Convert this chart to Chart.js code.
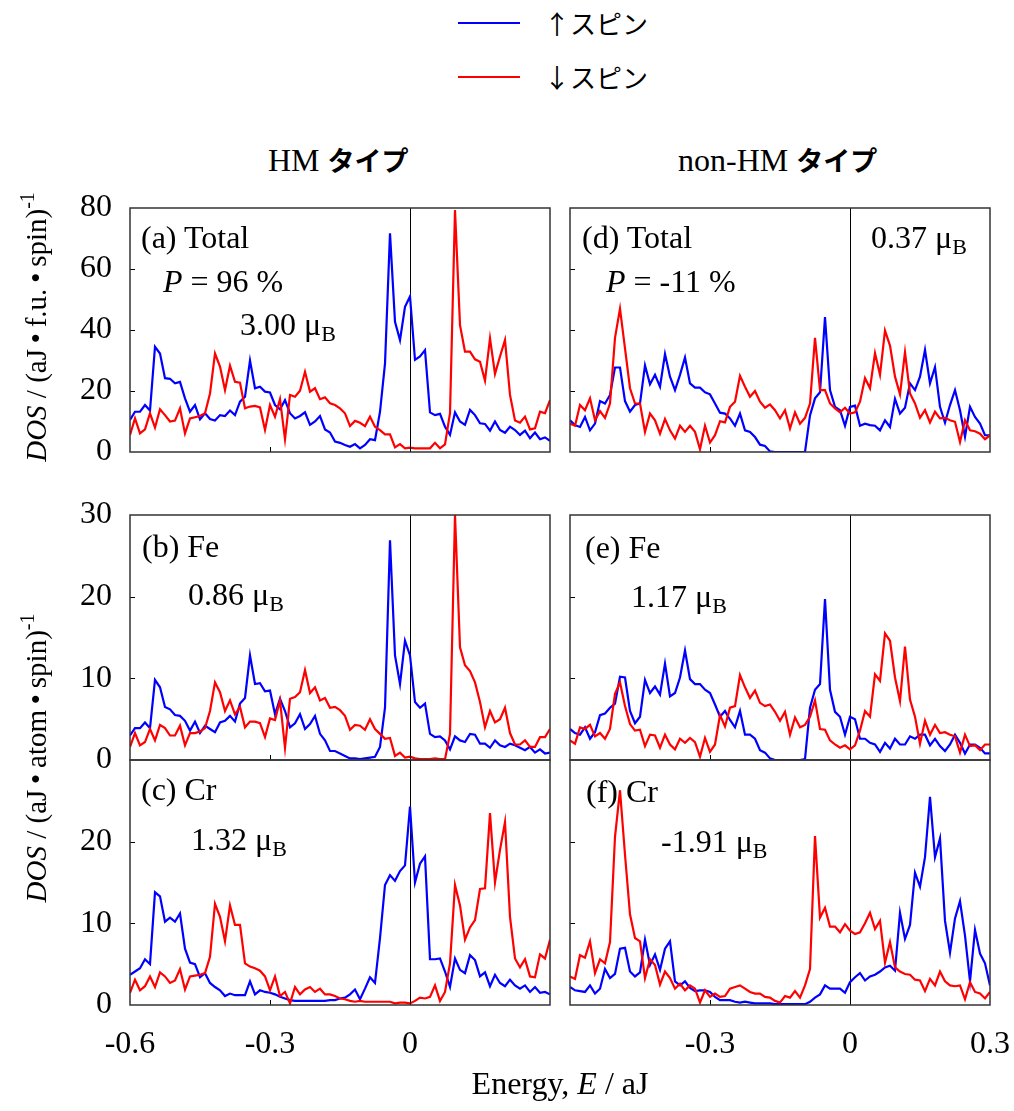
<!DOCTYPE html>
<html>
<head>
<meta charset="utf-8">
<script src="https://cdn.jsdelivr.net/npm/chart.js@4.4.0/dist/chart.umd.min.js"></script>
<style>
    body { margin: 0; background: #fff; }
    #fig { position: relative; width: 1014px; height: 1111px; background: #fff; overflow: hidden; }
    #fig canvas { position: absolute; }
    .t { position: absolute; white-space: nowrap; line-height: 1; color: #000;
         font-family: "Liberation Serif", "Times New Roman", serif; font-size: 32px; }
    .jp { font-family: "Noto Sans CJK JP", sans-serif; }
    .t sub { font-size: 22px; vertical-align: -6px; line-height: 0; }
    .t sup { font-size: 20px; vertical-align: 12px; line-height: 0; }
    .lg { position: absolute; height: 0; border-top: 2px solid; width: 62px; }
</style>
</head>
<body>
<div id="fig">
    <!-- leyenda -->
    <div class="lg" style="left:458px; top:22px; border-color:#0000ff"></div>
    <div class="t jp" style="left:544px; top:10px; font-size:26px">↑スピン</div>
    <div class="lg" style="left:458px; top:76px; border-color:#ff0000"></div>
    <div class="t jp" style="left:544px; top:64px; font-size:26px">↓スピン</div>

    <!-- títulos de columna -->
    <div class="t" style="left:268px; top:144px">HM <b class="jp" style="font-size:27px">タイプ</b></div>
    <div class="t" style="left:678px; top:144px">non-HM <b class="jp" style="font-size:27px">タイプ</b></div>

    <canvas id="cA" width="574" height="272" style="left:0px; top:190px"></canvas>
    <canvas id="cD" width="574" height="272" style="left:440px; top:190px"></canvas>
    <canvas id="cB" width="574" height="285" style="left:0px; top:497px"></canvas>
    <canvas id="cE" width="574" height="285" style="left:440px; top:497px"></canvas>
    <canvas id="cC" width="574" height="328" style="left:0px; top:742px"></canvas>
    <canvas id="cF" width="574" height="328" style="left:440px; top:742px"></canvas>

    <!-- etiquetas de cada panel -->
    <div class="t" style="left:141px; top:221px">(a) Total</div>
    <div class="t" style="left:163px; top:265px"><i>P</i> = 96 %</div>
    <div class="t" style="left:240px; top:308px">3.00 μ<sub>B</sub></div>
    <div class="t" style="left:582px; top:221px">(d) Total</div>
    <div class="t" style="left:606px; top:265px"><i>P</i> = -11 %</div>
    <div class="t" style="left:871px; top:221px">0.37 μ<sub>B</sub></div>
    <div class="t" style="left:142px; top:530px">(b) Fe</div>
    <div class="t" style="left:188px; top:578px">0.86 μ<sub>B</sub></div>
    <div class="t" style="left:585px; top:531px">(e) Fe</div>
    <div class="t" style="left:631px; top:580px">1.17 μ<sub>B</sub></div>
    <div class="t" style="left:141px; top:773px">(c) Cr</div>
    <div class="t" style="left:191px; top:823px">1.32 μ<sub>B</sub></div>
    <div class="t" style="left:586px; top:775px">(f) Cr</div>
    <div class="t" style="left:661px; top:825px">-1.91 μ<sub>B</sub></div>

    <!-- ejes -->
    <div class="t" style="left:36px; top:327px; font-size:29px; transform:translate(-50%,-50%) rotate(-90deg)"><i>DOS</i> / (aJ&#8201;•&#8201;f.u.&#8201;•&#8201;spin)<sup>-1</sup></div>
    <div class="t" style="left:36px; top:758px; font-size:29px; transform:translate(-50%,-50%) rotate(-90deg)"><i>DOS</i> / (aJ&#8201;•&#8201;atom&#8201;•&#8201;spin)<sup>-1</sup></div>
    <div class="t" style="left:560px; top:1083px; transform:translate(-50%,-50%)">Energy, <i>E</i> / aJ</div>
</div>

<script>
// DATOS
// malla de energía (aJ), 85 puntos entre -0.6 y 0.3
const energy = []
for (let i = 0; i <= 84; i++) energy.push(-0.6 + i * 0.9 / 84)

const xTicks = [-0.6, -0.3, 0, 0.3]

// (a) Total, HM
const upTotalHM = [10.5, 13.2, 13.2, 15.4, 13.6, 34.5, 32.3, 24.2, 24, 22.5,
    23, 17.6, 13.2, 15.4, 10.7, 12.7, 10.8, 10.3, 12.1, 11.8,
    13.6, 12.1, 16.5, 18.1, 30, 20.9, 21.4, 19.8, 19.5, 15.4,
    14, 17, 12.7, 11, 11.8, 13, 8.9, 10, 11.8, 7.4,
    6.4, 3.4, 3, 2.3, 1.7, 2.6, 1.2, 2.3, 4.2, 3.9,
    13.2, 29, 71.7, 42.7, 36.7, 47.6, 51, 30.2, 31.3, 33.4,
    13, 12.1, 12.5, 8.3, 5.6, 13, 10, 8.9, 13.8, 12.1,
    9.4, 9.2, 7, 10, 7.2, 6.3, 8.3, 7.2, 5.6, 7,
    4.5, 6.4, 4.2, 4.8, 3.7]
const dnTotalHM = [5.6, 11, 6.1, 7.4, 12.7, 8, 14, 12.1, 10, 10.3,
    14.3, 6.1, 11, 11.4, 11.8, 12.7, 19.2, 32.3, 28, 20.3,
    28.3, 23, 22.7, 14.3, 14.9, 15.1, 14.6, 7.2, 15.4, 11.6,
    17.3, 4.2, 18.7, 18.1, 20.1, 26.3, 19.8, 20.9, 17.3, 17.9,
    16, 15.4, 14.3, 12.7, 8.5, 10.2, 9.6, 8.5, 11.6, 8.3,
    7.2, 5.8, 5.8, 1.5, 2.6, 1.2, 1.4, 1.2, 1.2, 1.2,
    1.2, 3, 1.2, 2.5, 12.7, 79.3, 41.6, 32.9, 32.9, 30.4,
    29.6, 23.4, 37.3, 25.6, 31.3, 36.7, 18.7, 10.3, 9.6, 11.6,
    7.4, 7.8, 13.2, 12.7, 17]

// (d) Total, non-HM
const upTotalNon = [10.4, 8.8, 8.2, 11.5, 7.1, 9.3, 16.7, 15.9, 18.7, 27.7,
    27.7, 16.7, 13.2, 15.4, 15.9, 28.4, 22.2, 25.3, 21.4, 32.1,
    24.7, 20.3, 25.3, 31, 22.5, 21.1, 21.1, 19.6, 18.9, 15.9,
    12.9, 12.6, 11, 8.6, 12.6, 7.1, 6.6, 4.9, 2.4, 2,
    0.2, 0, 0, 0, 0, 0, 0, 0, 12, 17.6,
    19.6, 44.2, 20.3, 14.8, 13.7, 8.6, 14.8, 15.2, 8.6, 9.3,
    8.8, 8.6, 7.1, 10.4, 8.2, 17.4, 12.6, 14.5, 22.5, 20.3,
    24.7, 33.5, 22.5, 27.8, 14.8, 9.6, 15.4, 20.3, 13.7, 5,
    14.8, 11.5, 9.3, 5.5, 5.5]
const dnTotalNon = [9.3, 8.6, 15.4, 13.7, 17.6, 10.4, 13.4, 11.2, 15.9, 37.4,
    47, 34, 20.9, 15.9, 15.9, 6.6, 12.6, 10.4, 6, 10.8,
    7.1, 4.4, 8.6, 6.6, 8.6, 6.6, 0.9, 8.6, 3.1, 5.5,
    10.1, 9.7, 14.8, 16.5, 25, 21.4, 18.1, 20, 16.5, 14.5,
    15.6, 13.7, 11, 13.7, 7.7, 13, 9.3, 11.2, 15.9, 37.4,
    20.3, 20.3, 15.9, 14.3, 13, 14.5, 12.6, 13, 16.5, 24.2,
    20.9, 32.4, 25.3, 39.8, 34.9, 24.7, 18.9, 32.7, 19.2, 15.9,
    11.2, 13.7, 9.7, 13.2, 11, 11.2, 10.4, 9.9, 3.3, 10.4,
    7.1, 6.8, 6, 4.2, 5.5]

// (b) Fe, HM
const upFeHM = [3, 3.9, 3.9, 4.6, 3.9, 9.8, 8.9, 6.5, 6.2, 5.5,
    5.4, 4.8, 3.6, 4.7, 3.3, 4.2, 3.8, 3.4, 4.6, 4.8,
    5.4, 4.7, 6.9, 7.6, 12.8, 9.3, 9.4, 8.4, 8.5, 5.6,
    7.5, 6, 4, 4.5, 5.6, 3.8, 4.4, 5.4, 3.2, 2.4,
    1.1, 1.1, 0.8, 0.5, 0.2, 0.2, 0.1, 0.2, 0.3, 0.4,
    1.6, 6.4, 26.9, 12.8, 9.3, 14.6, 12.8, 7.1, 6.4, 6.9,
    3.2, 2.8, 2.9, 2.4, 1.3, 2.9, 2.4, 2.2, 3.2, 3.1,
    2, 2, 1.5, 2.4, 1.8, 1.6, 2, 1.8, 1.5, 1.2,
    1.6, 0.9, 1.3, 0.8, 0.9]
const dnFeHM = [1.6, 3.3, 1.8, 2.2, 3.8, 2.4, 4.3, 3.9, 3, 3,
    4.2, 1.8, 3.3, 3.3, 3.5, 3.9, 6, 9.5, 8.3, 6,
    7.3, 5.6, 6.5, 4, 4.7, 4.7, 4.5, 2.8, 5.1, 4.9,
    7.3, 1.5, 7.5, 7.7, 8.3, 11, 8.2, 8.9, 7.3, 7.6,
    6.4, 6.5, 6.1, 5.4, 3.7, 4.3, 4.2, 3.7, 5, 3.8,
    3.2, 2.6, 2.7, 0.5, 0.9, 0.3, 0.4, 0.2, 0.1, 0.1,
    0.1, 0.2, 0.1, 0.1, 3.2, 30, 13.8, 11.6, 10.9, 9.5,
    7.1, 4, 6, 4.6, 5, 6.4, 3.3, 1.9, 1.9, 2.4,
    1.6, 1.6, 2.8, 2.8, 3.8]

// (e) Fe, non-HM
const upFeNon = [3.8, 3.3, 3.1, 4, 2.6, 3.4, 5.5, 5.7, 6.4, 6.9,
    10.2, 10.1, 6, 4.5, 5.3, 9.8, 8.2, 9, 8, 11.8,
    7.8, 8.2, 10.1, 13.4, 9.9, 9.3, 9.3, 8.6, 8.2, 6.8,
    5.3, 6, 4.9, 4, 6, 3.1, 3.1, 2.6, 1.2, 0.9,
    0.2, 0, 0, 0, 0, 0, 0, 0.1, 6.4, 8.6,
    9.3, 19.7, 8.6, 5.9, 5.3, 3.1, 5.3, 5, 2.6, 2.6,
    2.1, 1.9, 1, 2.1, 1.4, 2.6, 1.9, 1.9, 2.9, 2.6,
    3.1, 3.1, 1.8, 2.6, 1.7, 1.1, 1.9, 3.1, 2.1, 0.8,
    1.9, 1.9, 1.5, 0.8, 0.8]
const dnFeNon = [2.4, 2, 4, 3.8, 4.3, 2.9, 3.3, 2.6, 3.8, 8.1,
    9.5, 6.6, 4.4, 3.6, 3.7, 1.7, 3.1, 3, 1.5, 3.1,
    1.9, 1.3, 2.6, 2.1, 2.7, 2.2, 0.4, 2.7, 1, 1.9,
    5.5, 4.1, 6.4, 6.6, 10.4, 8.9, 7.6, 8.5, 7, 6.6,
    6.8, 5.9, 4.8, 5.9, 3.1, 5.2, 4, 4.3, 5.3, 7.3,
    3.8, 3.7, 2.4, 1.9, 1.5, 1.8, 1.3, 1.8, 3.6, 6,
    5.3, 10.5, 9.7, 15.5, 14.6, 10.1, 7.2, 13.9, 7.4, 5.3,
    2, 4.8, 3.1, 4.3, 3.3, 3.4, 3.1, 2.9, 0.9, 3.1,
    1.7, 1.8, 1.2, 1.9, 1.9]

// (c) Cr, HM
const upCrHM = [3.7, 4.1, 4.5, 5.6, 5, 13.8, 13.3, 10.2, 10.7, 10.2,
    11.2, 6.9, 5.2, 5, 3.4, 3.9, 2.7, 2.2, 1.8, 1.1,
    1.4, 1.2, 1.2, 1.2, 2.9, 1.3, 1.8, 1.6, 1.5, 1.3,
    1, 0.8, 0.6, 0.5, 0.5, 0.5, 0.5, 0.5, 0.5, 0.5,
    0.6, 0.6, 0.8, 0.9, 1.3, 1.9, 0.7, 2, 3.4, 2.7,
    8.2, 14.7, 15.9, 15.2, 16.4, 17.1, 24.3, 15, 17.3, 18.2,
    5.6, 5.6, 5.7, 4.1, 2.2, 5.7, 4.3, 3.9, 6.1, 5.5,
    3.5, 4, 2.3, 3.7, 2.7, 2.3, 3.1, 2.4, 2, 2.4,
    1.6, 2.2, 1.5, 1.6, 1.3]
const dnCrHM = [1.5, 3.1, 1.8, 2.3, 3.5, 2.2, 4, 3.5, 2.7, 3,
    4.4, 1.9, 3.5, 3.6, 3.7, 3.9, 5.9, 12.4, 10.8, 7.8,
    12.2, 9.8, 9.8, 5.1, 4.7, 4.5, 4.2, 3.5, 1.8, 3.5,
    1.1, 1.6, 0.2, 2.2, 1.3, 1.9, 2.2, 1.6, 2, 1.3,
    1.3, 1.1, 0.8, 0.7, 0.5, 0.4, 0.5, 0.4, 0.4, 0.4,
    0.4, 0.4, 0.4, 0.2, 0.3, 0.3, 0.2, 0.5, 0.9, 0.8,
    1, 2.4, 0.5, 1.6, 5.1, 14.7, 12.2, 8, 9.5, 10.4,
    14.2, 14.3, 23.5, 15, 19, 22.4, 10.8, 5.7, 4.6, 5.6,
    3.5, 3.4, 6.2, 5.7, 8]

// (f) Cr, non-HM
const upCrNon = [2.2, 1.8, 1.7, 1.6, 2.4, 1.4, 2, 4.4, 3.3, 3.8,
    6.9, 7, 4.1, 3.5, 4, 8, 4.9, 6.2, 4.3, 6.9,
    7.8, 2.9, 2.4, 2.9, 2.1, 1.7, 1.8, 1.8, 1.6, 1,
    0.6, 0.6, 0.6, 0.4, 0.3, 0.4, 0.3, 0.2, 0.2, 0.2,
    0.2, 0.1, 0.1, 0.1, 0.1, 0.1, 0.1, 0.1, 0.4, 0.9,
    1.3, 2.4, 2, 2, 2, 1.5, 2.8, 3.4, 3.9, 3,
    3.5, 3.7, 4.1, 4.6, 4.8, 4.2, 11.3, 8.1, 9.8, 16.2,
    14.5, 18.1, 25.5, 18.1, 20.4, 10.3, 6.4, 10.6, 12.7, 8.5,
    2.9, 9.2, 6.3, 5.1, 2.4]
const dnCrNon = [3.5, 3.2, 6.1, 5.8, 7.8, 3.9, 5.6, 5.1, 7.7, 20.6,
    26.3, 18.4, 11.1, 8.2, 7.8, 3.3, 5.6, 4.9, 2.5, 4.1,
    3.3, 2, 2.6, 1.8, 2.4, 2, 0.3, 1.8, 1, 1.4,
    1, 1.1, 2, 2.2, 2.4, 2, 1.6, 1.4, 1.4, 1,
    0.9, 0.5, 0.3, 1.1, 0.9, 1.7, 0.9, 2.4, 4.4, 20.7,
    10.7, 11.9, 9.6, 9.6, 8.9, 9.9, 9.1, 8.7, 8.9, 10,
    11.3, 9.3, 10.3, 5.2, 7.7, 4.6, 4.1, 3.8, 3.7, 3.1,
    3, 1.7, 3.2, 2.4, 4.1, 2.9, 2.4, 2.3, 2.4, 0.7,
    2.8, 1.6, 1.4, 0.8, 1.6]


// FUNCIONES
// marco del panel y marcas de graduación hacia dentro
const marco = {
    id: "marco",
    afterDatasetsDraw(chart) {
        const { ctx, chartArea: a, scales } = chart
        ctx.save()
        ctx.strokeStyle = "#000"
        ctx.lineWidth = 1
        scales.y.ticks.forEach(t => {
            if (t.value <= scales.y.min || t.value >= scales.y.max) return
            const py = Math.round(scales.y.getPixelForValue(t.value)) + 0.5
            ctx.beginPath()
            ctx.moveTo(a.left, py)
            ctx.lineTo(a.left + 5, py)
            ctx.stroke()
        })
        scales.x.ticks.forEach(t => {
            if (t.value <= scales.x.min || t.value >= scales.x.max) return
            const px = Math.round(scales.x.getPixelForValue(t.value)) + 0.5
            ctx.beginPath()
            ctx.moveTo(px, a.bottom)
            ctx.lineTo(px, a.bottom - 5)
            ctx.stroke()
        })
        ctx.strokeStyle = "#333"
        ctx.lineWidth = 1.5
        ctx.strokeRect(a.left, a.top, a.right - a.left, a.bottom - a.top)
        ctx.restore()
    },
}

function graficar(idCanvas, up, dn, yMax, paso, op) {
    const serie = (valores) => energy.map((e, i) => ({ x: e, y: valores[i] }))
    new Chart(document.getElementById(idCanvas), {
        type: "line",
        data: {
            datasets: [
                { data: serie(dn), borderColor: "#ff0000", borderWidth: 2.2, pointRadius: 0, tension: 0 },
                { data: serie(up), borderColor: "#0000ff", borderWidth: 2.2, pointRadius: 0, tension: 0 },
            ],
        },
        options: {
            responsive: false,
            animation: false,
            events: [],
            layout: { padding: { top: 18, right: 24, left: 0, bottom: 0 } },
            scales: {
                x: {
                    type: "linear",
                    min: -0.6,
                    max: 0.3,
                    afterBuildTicks: (scale) => { scale.ticks = xTicks.map(v => ({ value: v })) },
                    afterFit: (scale) => {
                        // las etiquetas no deben encoger el área del gráfico
                        scale.height = op.altoX
                        scale.paddingLeft = 0
                        scale.paddingRight = 0
                    },
                    border: { display: false },
                    grid: {
                        drawTicks: false,
                        lineWidth: 1,
                        color: (c) => (c.tick && Math.abs(c.tick.value) < 1e-9 ? "#000" : "rgba(0,0,0,0)"),
                    },
                    ticks: {
                        display: op.etiquetasX,
                        autoSkip: false,
                        maxRotation: 0,
                        padding: 20,
                        color: "#000",
                        font: { family: "Liberation Serif", size: 32 },
                        callback: (v) => {
                            if (op.ocultarX.includes(v)) return ""
                            return v === 0 ? "0" : v.toFixed(1)
                        },
                    },
                },
                y: {
                    min: 0,
                    max: yMax,
                    afterFit: (scale) => {
                        scale.width = 130
                        scale.paddingTop = 0
                        scale.paddingBottom = 0
                    },
                    border: { display: false },
                    grid: { display: false, drawTicks: false },
                    ticks: {
                        display: op.etiquetasY,
                        stepSize: paso,
                        padding: 18,
                        color: "#000",
                        font: { family: "Liberation Serif", size: 32 },
                        callback: (v) => (op.ocultarTope && v === yMax ? "" : v),
                    },
                },
            },
            plugins: { legend: { display: false }, tooltip: { enabled: false } },
        },
        plugins: [marco],
    })
}


// EJECUCIÓN
graficar("cA", upTotalHM, dnTotalHM, 80, 20, { altoX: 10, etiquetasX: false, etiquetasY: true, ocultarX: [], ocultarTope: false })
graficar("cD", upTotalNon, dnTotalNon, 80, 20, { altoX: 10, etiquetasX: false, etiquetasY: false, ocultarX: [], ocultarTope: false })
graficar("cB", upFeHM, dnFeHM, 30, 10, { altoX: 22, etiquetasX: false, etiquetasY: true, ocultarX: [], ocultarTope: false })
graficar("cE", upFeNon, dnFeNon, 30, 10, { altoX: 22, etiquetasX: false, etiquetasY: false, ocultarX: [], ocultarTope: false })
graficar("cC", upCrHM, dnCrHM, 30, 10, { altoX: 65, etiquetasX: true, etiquetasY: true, ocultarX: [0.3], ocultarTope: true })
graficar("cF", upCrNon, dnCrNon, 30, 10, { altoX: 65, etiquetasX: true, etiquetasY: false, ocultarX: [-0.6], ocultarTope: true })
</script>
</body>
</html>
